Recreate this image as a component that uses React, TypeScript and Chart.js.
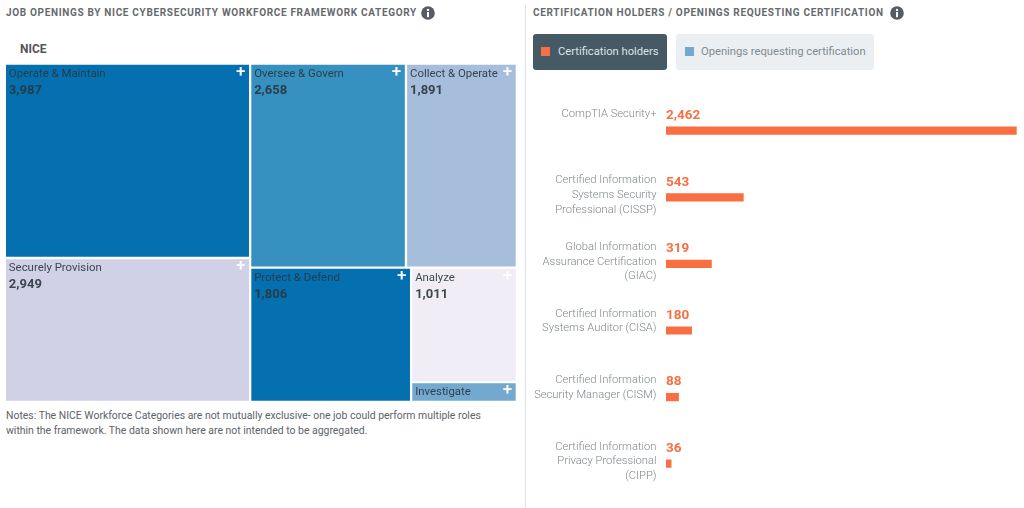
import React, { useEffect, useRef } from "react";
import { Chart, registerables, DatasetController, BarElement } from "chart.js";

Chart.register(...registerables);

// ---------- data ----------
const niceCategories = ["Operate & Maintain", "Securely Provision", "Oversee & Govern", "Collect & Operate", "Protect & Defend", "Analyze", "Investigate"];
const niceValues = [3987, 2949, 2658, 1891, 1806, 1011, 175];
const niceColors = ["#0570b0", "#d0d1e6", "#3690c0", "#a6bddb", "#0570b0", "#f0edf6", "#74a9cf"];
const niceShowValue = [true, true, true, true, true, true, false];

const certLabels = [
  ["CompTIA Security+"],
  ["Certified Information", "Systems Security", "Professional (CISSP)"],
  ["Global Information", "Assurance Certification", "(GIAC)"],
  ["Certified Information", "Systems Auditor (CISA)"],
  ["Certified Information", "Security Manager (CISM)"],
  ["Certified Information", "Privacy Professional", "(CIPP)"],
];
const certHolders = [2462, 543, 319, 180, 88, 36];

const FONT = "Roboto, sans-serif";
const TEXT = "rgba(42,54,62,0.9)";
const ORANGE = "#f96f43";

// ---------- treemap controller: cells are slices of the unit square, proportional to value ----------
function sum(idx: number[], v: number[]) {
  return idx.reduce((s, i) => s + v[i], 0);
}
function sliceLayout(v: number[]) {
  const left = [0, 1], rowA = [2, 3], rowB = [4, 5, 6], stack = [5, 6];
  const total = sum([0, 1, 2, 3, 4, 5, 6], v);
  const rects: { x0: number; x1: number; y0: number; y1: number }[] = [];
  const lw = sum(left, v) / total;
  const h0 = v[0] / sum(left, v);
  rects[0] = { x0: 0, x1: lw, y0: 0, y1: h0 };
  rects[1] = { x0: 0, x1: lw, y0: h0, y1: 1 };
  const hA = sum(rowA, v) / (sum(rowA, v) + sum(rowB, v));
  const wA = lw + (1 - lw) * (v[2] / sum(rowA, v));
  rects[2] = { x0: lw, x1: wA, y0: 0, y1: hA };
  rects[3] = { x0: wA, x1: 1, y0: 0, y1: hA };
  const wB = lw + (1 - lw) * (v[4] / sum(rowB, v));
  rects[4] = { x0: lw, x1: wB, y0: hA, y1: 1 };
  const hS = hA + (1 - hA) * (v[5] / sum(stack, v));
  rects[5] = { x0: wB, x1: 1, y0: hA, y1: hS };
  rects[6] = { x0: wB, x1: 1, y0: hS, y1: 1 };
  return rects;
}

class TreemapController extends (DatasetController as any) {
  static id = "treemap";
  static defaults = { dataElementType: "bar" };
  parse() {}
  update(mode: any) {
    const meta = this._cachedMeta;
    this.updateElements(meta.data, 0, meta.data.length, mode);
  }
  updateElements(els: any[], start: number, count: number, mode: any) {
    const rects = sliceLayout(this.getDataset().data);
    const { x: xs, y: ys } = this.chart.scales;
    for (let i = start; i < start + count; i++) {
      const r = rects[i];
      const a = xs.getPixelForValue(r.x0), b = xs.getPixelForValue(r.x1);
      const t = ys.getPixelForValue(r.y0), u = ys.getPixelForValue(r.y1);
      this.updateElement(els[i], i, {
        x: (a + b) / 2, y: t, base: u, width: b - a, height: u - t,
        horizontal: false, borderSkipped: {}, inflateAmount: 0, enableBorderRadius: false,
        options: this.resolveDataElementOptions(i, mode),
      }, mode);
    }
  }
}
Chart.register(TreemapController as any, BarElement);

const treemapLabels = {
  id: "treemapLabels",
  afterDatasetsDraw(chart: any) {
    const { ctx } = chart;
    const els = chart.getDatasetMeta(0).data;
    ctx.save();
    ctx.textBaseline = "middle";
    els.forEach((el: any, i: number) => {
      const left = el.x - el.width / 2, right = el.x + el.width / 2, top = el.y;
      ctx.textAlign = "left";
      ctx.fillStyle = TEXT;
      ctx.font = `400 11.4px ${FONT}`;
      ctx.fillText(niceCategories[i], left + 4, top + 10.5);
      if (niceShowValue[i]) {
        ctx.font = `700 13px ${FONT}`;
        ctx.fillStyle = TEXT;
        ctx.fillText(niceValues[i].toLocaleString("en-US"), left + 4, top + 27);
      }
      ctx.textAlign = "center";
      ctx.fillStyle = "#ffffff";
      ctx.font = `500 17px ${FONT}`;
      ctx.fillText("+", right - 9.5, top + 9);
    });
    ctx.restore();
  },
};

const certText = {
  id: "certText",
  afterDatasetsDraw(chart: any) {
    const { ctx, scales } = chart;
    const x0 = scales.x.getPixelForValue(0);
    ctx.save();
    ctx.textBaseline = "middle";
    certLabels.forEach((lines, i) => {
      const p = scales.y.getPixelForTick(i);
      ctx.textAlign = "right";
      ctx.fillStyle = "#7f868a";
      ctx.font = `300 11.2px ${FONT}`;
      lines.forEach((line, k) => ctx.fillText(line, x0 - 9.5, p - 16.8 + k * 14.6));
      ctx.textAlign = "left";
      ctx.fillStyle = ORANGE;
      ctx.font = `700 13.5px ${FONT}`;
      ctx.fillText(certHolders[i].toLocaleString("en-US"), x0, p - 15);
    });
    ctx.restore();
  },
};

function InfoIcon({ left }: { left: number }) {
  return (
    <svg style={{ position: "absolute", left, top: 6 }} width="14" height="14" viewBox="0 0 14 14">
      <circle cx="7" cy="7" r="6.8" fill="#565c63" />
      <circle cx="7" cy="3.9" r="1.2" fill="#fff" />
      <rect x="6" y="6" width="2" height="5.2" fill="#fff" />
    </svg>
  );
}

const titleStyle: React.CSSProperties = {
  position: "absolute", top: 6, font: `700 10px ${FONT}`, letterSpacing: "0.67px", color: "#666a6e", lineHeight: "13px", whiteSpace: "nowrap",
};

export default function App() {
  const treeRef = useRef<HTMLCanvasElement>(null);
  const barRef = useRef<HTMLCanvasElement>(null);

  useEffect(() => {
    const tree = new Chart(treeRef.current!, {
      type: "treemap" as any,
      data: {
        labels: niceCategories,
        datasets: [{
          data: niceValues,
          backgroundColor: niceColors,
          borderColor: "#ffffff",
          borderWidth: 1.15,
          borderSkipped: false,
        } as any],
      },
      options: {
        animation: false, responsive: false,
        layout: { padding: { left: 4.85, right: 8.15, top: 3.55, bottom: 3.15 } },
        plugins: { legend: { display: false }, tooltip: { enabled: false } },
        scales: {
          x: { type: "linear", display: false, min: 0, max: 1 },
          y: { type: "linear", display: false, min: 0, max: 1, reverse: true },
        },
      },
      plugins: [treemapLabels],
    } as any);

    const bars = new Chart(barRef.current!, {
      type: "bar",
      data: {
        labels: certLabels as any,
        datasets: [{ label: "Certification holders", data: certHolders, backgroundColor: ORANGE, barThickness: 7.5 }],
      },
      options: {
        indexAxis: "y", animation: false, responsive: false,
        layout: { padding: { left: 140, right: 7.3, top: 17.4, bottom: 11 } },
        plugins: { legend: { display: false }, tooltip: { enabled: false } },
        scales: {
          x: { type: "linear", display: false, min: 0, max: 2462 },
          y: { type: "category", display: false },
        },
      },
      plugins: [certText],
    } as any);

    return () => { tree.destroy(); bars.destroy(); };
  }, []);

  return (
    <div style={{ position: "fixed", left: 0, top: 0, width: 1024, height: 508, overflow: "hidden", background: "#fff", fontFamily: FONT }}>
      <div style={{ ...titleStyle, left: 6 }}>JOB OPENINGS BY NICE CYBERSECURITY WORKFORCE FRAMEWORK CATEGORY</div>
      <InfoIcon left={421} />
      <div style={{ position: "absolute", left: 20, top: 42, font: `700 12px ${FONT}`, color: "#555", lineHeight: "15px" }}>NICE</div>
      <canvas ref={treeRef} width={525} height={345} style={{ position: "absolute", left: 0, top: 60, width: 525, height: 345 }} />
      <div style={{ position: "absolute", left: 6, top: 408, width: 510, font: `400 10.45px/15px ${FONT}`, color: "#5c6368", whiteSpace: "nowrap" }}>
        Notes: The NICE Workforce Categories are not mutually exclusive- one job could perform multiple roles<br />
        within the framework. The data shown here are not intended to be aggregated.
      </div>

      <div style={{ position: "absolute", left: 525, top: 5, width: 1, height: 503, background: "#dfe2e4" }} />
      <div style={{ ...titleStyle, left: 533 }}>CERTIFICATION HOLDERS / OPENINGS REQUESTING CERTIFICATION</div>
      <InfoIcon left={890} />

      <div style={{ position: "absolute", left: 533, top: 34, width: 134, height: 36, background: "#455a64", borderRadius: 3 }}>
        <span style={{ position: "absolute", left: 8, top: 13, width: 9, height: 9, background: ORANGE }} />
        <span style={{ position: "absolute", left: 25, top: 10, font: `400 11.2px/16px ${FONT}`, color: "#dde3e6", whiteSpace: "nowrap" }}>Certification holders</span>
      </div>
      <div style={{ position: "absolute", left: 676, top: 34, width: 198, height: 36, background: "#eceff1", borderRadius: 3 }}>
        <span style={{ position: "absolute", left: 9, top: 13, width: 9, height: 9, background: "#74a9cf" }} />
        <span style={{ position: "absolute", left: 25, top: 10, font: `400 11.2px/16px ${FONT}`, color: "#808b91", whiteSpace: "nowrap" }}>Openings requesting certification</span>
      </div>

      <canvas ref={barRef} width={498} height={428} style={{ position: "absolute", left: 526, top: 80, width: 498, height: 428 }} />
    </div>
  );
}
